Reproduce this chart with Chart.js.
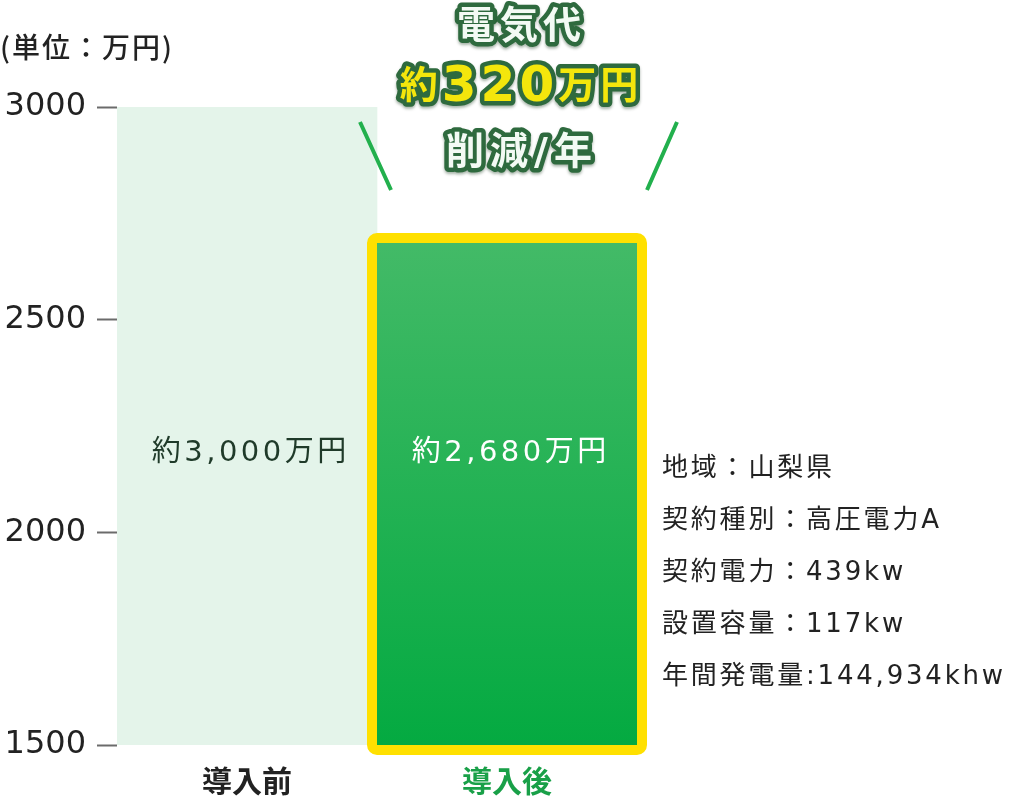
<!DOCTYPE html>
<html lang="ja">
<head>
<meta charset="utf-8">
<title>電気代 削減</title>
<script src="https://cdn.jsdelivr.net/npm/chart.js@4.4.1/dist/chart.umd.min.js"></script>
<style>
  html, body { margin: 0; padding: 0; background: #fff; }
  #wrap { width: 1018px; height: 800px; }
</style>
</head>
<body>
<div id="wrap"><canvas id="costChart" width="1018" height="800"></canvas></div>
<script>
// data
const categories = ['導入前', '導入後'];
const costs = [3000, 2680];
const costLabels = ['約3,000万円', '約2,680万円'];
const yTicks = [1500, 2000, 2500, 3000];
const unitLabel = '(単位：万円)';
const savingLines = ['電気代', ['約', '320', '万円'], '削減/年'];
const infoLines = [
  '地域：山梨県',
  '契約種別：高圧電力A',
  '契約電力：439kw',
  '設置容量：117kw',
  '年間発電量:144,934khw'
];

// latin glyphs from DejaVu (wide digits), kanji fall back to Noto CJK
const FONT = "'DejaVu Sans', 'Noto Sans CJK JP', sans-serif";
const CJK = "'Noto Sans CJK JP', sans-serif";
const DARK = '#222222';
const GREEN = '#19a048';

// canvas letterSpacing is not available here, so space by hand
function spacedWidth(ctx, text, sp) {
  const chars = Array.from(text);
  let w = 0;
  chars.forEach(ch => { w += ctx.measureText(ch).width; });
  return w + sp * (chars.length - 1);
}
function drawSpaced(ctx, text, x, y, sp, stroke) {
  Array.from(text).forEach(ch => {
    if (stroke) ctx.strokeText(ch, x, y);
    else ctx.fillText(ch, x, y);
    x += ctx.measureText(ch).width + sp;
  });
}

const decoPlugin = {
  id: 'deco',
  afterDatasetsDraw(chart) {
    const ctx = chart.ctx;
    const area = chart.chartArea;
    const bars = chart.getDatasetMeta(0).data;
    const b = bars[1];
    const left = b.x - b.width / 2;
    const right = b.x + b.width / 2;
    const bottom = Math.min(b.base, area.bottom);

    // yellow frame round the "after" bar
    ctx.save();
    ctx.strokeStyle = '#ffe000';
    ctx.lineWidth = 10;
    ctx.beginPath();
    ctx.roundRect(left - 5, b.y - 5, right - left + 10, bottom - b.y + 10, 5);
    ctx.stroke();
    ctx.restore();

    // value labels in bars
    ctx.save();
    ctx.font = '29px ' + FONT;
    ctx.textAlign = 'left';
    ctx.textBaseline = 'middle';
    const midY = area.bottom - 292;
    bars.forEach((bar, i) => {
      ctx.fillStyle = i === 0 ? '#1f3a29' : '#ffffff';
      const w = spacedWidth(ctx, costLabels[i], 3.5);
      drawSpaced(ctx, costLabels[i], bar.x + 2 - w / 2, midY, 3.5);
    });
    ctx.restore();
  },
  afterDraw(chart) {
    const ctx = chart.ctx;
    const area = chart.chartArea;

    // unit
    ctx.save();
    ctx.font = '500 28px ' + CJK;
    ctx.fillStyle = DARK;
    ctx.textBaseline = 'middle';
    ctx.textAlign = 'left';
    drawSpaced(ctx, unitLabel, 0, 47, 2);
    ctx.restore();

    // info block on the right
    ctx.save();
    ctx.font = '26px ' + FONT;
    ctx.fillStyle = DARK;
    ctx.textBaseline = 'middle';
    ctx.textAlign = 'left';
    infoLines.forEach((t, i) => drawSpaced(ctx, t, area.right + 25, 469 + i * 52, 2.8));
    ctx.restore();

    // callout lines
    ctx.save();
    ctx.strokeStyle = '#22b04d';
    ctx.lineWidth = 4;
    ctx.beginPath();
    ctx.moveTo(360, 122); ctx.lineTo(391, 190);
    ctx.moveTo(677, 122); ctx.lineTo(647, 190);
    ctx.stroke();
    ctx.restore();

    // saving headline, outlined text
    const cx = 519;
    const drawOutlined = (parts, y) => {
      ctx.save();
      ctx.textBaseline = 'middle';
      ctx.textAlign = 'left';
      ctx.lineJoin = 'round';
      let total = 0;
      parts.forEach((p, i) => {
        ctx.font = p.font;
        p.w = spacedWidth(ctx, p.text, p.sp);
        total += p.w + (i < parts.length - 1 ? p.sp : 0);
      });
      let x = cx - total / 2;
      parts.forEach(p => { p.x = x; x += p.w + p.sp; });
      ctx.shadowColor = 'rgba(0,40,10,0.35)';
      ctx.shadowOffsetY = 2;
      ctx.shadowBlur = 3;
      ctx.strokeStyle = '#2e6a3e';
      ctx.lineWidth = 9;
      parts.forEach(p => { ctx.font = p.font; drawSpaced(ctx, p.text, p.x, y, p.sp, true); });
      ctx.shadowColor = 'transparent';
      parts.forEach(p => {
        ctx.font = p.font;
        ctx.fillStyle = p.color;
        drawSpaced(ctx, p.text, p.x, y, p.sp, false);
      });
      ctx.restore();
    };
    const head = 'bold 38px ' + FONT;
    drawOutlined([{ text: savingLines[0], font: head, sp: 5, color: '#f3faf4' }], 28);
    drawOutlined([
      { text: savingLines[1][0], font: head, sp: 4, color: '#f4e60c' },
      { text: savingLines[1][1], font: 'bold 50px ' + FONT, sp: 4, color: '#f4e60c' },
      { text: savingLines[1][2], font: head, sp: 4, color: '#f4e60c' }
    ], 88);
    drawOutlined([{ text: savingLines[2], font: head, sp: 6, color: '#f3faf4' }], 154);
  }
};

const ctx = document.getElementById('costChart');

new Chart(ctx, {
  type: 'bar',
  data: {
    labels: categories,
    datasets: [{
      data: costs,
      categoryPercentage: 1,
      barPercentage: 1,
      borderWidth: 0,
      backgroundColor: (c) => {
        if (c.dataIndex === 0) return '#e4f4ea';
        const a = c.chart.chartArea;
        if (!a) return '#1db355';
        const g = c.chart.ctx.createLinearGradient(0, a.top + 110, 0, a.bottom);
        g.addColorStop(0, '#46bb69');
        g.addColorStop(1, '#04aa41');
        return g;
      }
    }]
  },
  options: {
    responsive: false,
    animation: false,
    events: [],
    layout: { padding: { top: 107, right: 381, left: 0, bottom: 0 } },
    plugins: {
      legend: { display: false },
      tooltip: { enabled: false }
    },
    scales: {
      x: {
        grid: { display: false },
        border: { display: false },
        afterFit: (scale) => { scale.height = 55; },
        ticks: {
          padding: 10,
          font: { family: CJK, size: 30, weight: 'bold' },
          color: (c) => c.index === 1 ? GREEN : DARK
        }
      },
      y: {
        min: 1500,
        max: 3000,
        afterBuildTicks: (scale) => { scale.ticks = yTicks.map(v => ({ value: v })); },
        afterFit: (scale) => { scale.width = 117; },
        border: { display: false },
        grid: {
          drawOnChartArea: false,
          drawTicks: true,
          tickLength: 20,
          tickColor: '#6b6b6b',
          tickWidth: 2
        },
        ticks: {
          padding: 11,
          font: { family: FONT, size: 32 },
          color: DARK,
          callback: (v) => String(v)
        }
      }
    }
  },
  plugins: [decoPlugin]
});
</script>
</body>
</html>
